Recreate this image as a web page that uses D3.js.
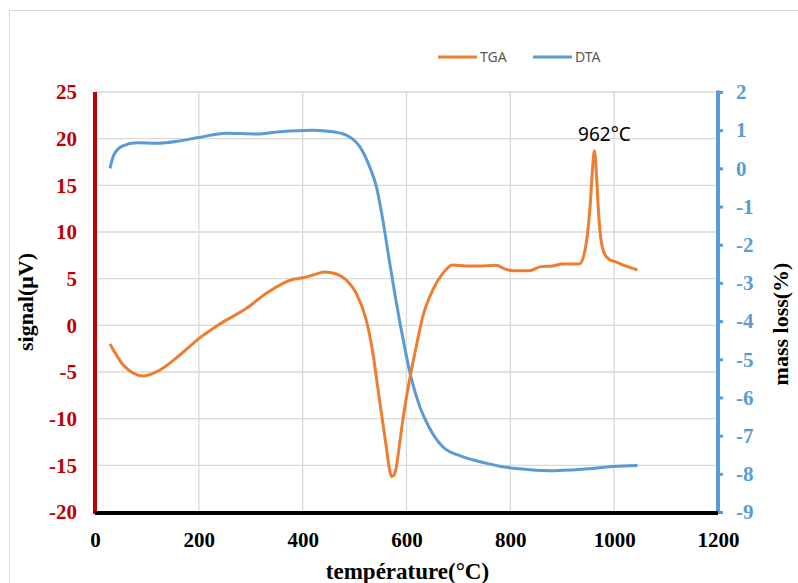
<!DOCTYPE html>
<html>
<head>
<meta charset="utf-8">
<script src="https://cdn.jsdelivr.net/npm/d3@7/dist/d3.min.js"></script>
<style>
  html, body { margin: 0; padding: 0; background: #ffffff; }
  svg { display: block; }
</style>
</head>
<body>
<svg id="chart" width="798" height="583"></svg>
<script>
// Temperature (°C) and signal (µV) for the TGA trace, left axis
const tgaTemp = [28.8, 54.4, 73, 92.9, 118.7, 163.5, 200.6, 240.4, 291.7, 330.2, 381.3, 400.6, 419.8, 442.3,
  464.8, 484, 503.3, 522.5, 535.2, 548, 561, 566, 571, 575, 580, 586, 593, 605.8, 618.7, 631.3, 650.6,
  669.8, 689, 714.8, 740.4, 772.5, 791.7, 804.4, 836.5, 859, 881.3, 900.6, 932.7, 940, 948, 954, 958,
  962, 966, 970, 975, 982, 992, 1003, 1022, 1044.8];
const tgaSignal = [-2.0, -4.25, -5.1, -5.43, -4.97, -3.18, -1.39, 0.14, 1.82, 3.43, 4.93, 5.1, 5.39, 5.71,
  5.5, 4.86, 3.43, 0.57, -2.96, -8.0, -13.0, -15.0, -16.2, -16.1, -15.3, -13.0, -10.1, -5.86, -2.29, 0.93,
  3.79, 5.57, 6.46, 6.36, 6.36, 6.43, 6.0, 5.85, 5.85, 6.29, 6.36, 6.57, 6.57, 7.2, 9.5, 13.0, 16.5,
  18.7, 16.0, 12.0, 9.0, 7.6, 7.0, 6.8, 6.36, 5.93];

// Temperature (°C) and mass loss (%) for the DTA trace, right axis
const dtaTemp = [28.8, 35, 44, 54, 80, 119, 163, 200, 253, 311, 356, 420, 458, 484, 510, 529, 542, 554.4,
  567.3, 580.2, 592.9, 609, 625.8, 644.2, 669.8, 708, 753, 779, 817, 875, 939, 997, 1045];
const dtaMass = [0.0, 0.31, 0.5, 0.59, 0.67, 0.66, 0.72, 0.81, 0.92, 0.90, 0.96, 1.0, 0.96, 0.87, 0.57,
  0.04, -0.48, -1.35, -2.45, -3.5, -4.44, -5.49, -6.25, -6.80, -7.29, -7.55, -7.72, -7.80, -7.87,
  -7.92, -7.88, -7.81, -7.78];

const xTicks = [0, 200, 400, 600, 800, 1000, 1200];
const leftTicks = [-20, -15, -10, -5, 0, 5, 10, 15, 20, 25];
const rightTicks = [-9, -8, -7, -6, -5, -4, -3, -2, -1, 0, 1, 2];

const peakLabel = { temp: 962, signal: 18.7, text: "962°C" };

const seriesNames = ["TGA", "DTA"];
const colors = { TGA: "#ed7d31", DTA: "#5b9bd5" };

const svg = d3.select("#chart");
const plotL = 95, plotR = 718, plotT = 92, plotB = 512;

const x = d3.scaleLinear().domain([0, 1200]).range([plotL, plotR]);
const yL = d3.scaleLinear().domain([-20, 25]).range([plotB, plotT]);
const yR = d3.scaleLinear().domain([-9, 2]).range([plotB, plotT]);

// plain hyphen-minus for negative tick values
const plainFmt = d => String(d);

// outer frame
svg.append("rect")
  .attr("x", 9.5).attr("y", 10.5)
  .attr("width", 900).attr("height", 700)
  .attr("fill", "#ffffff").attr("stroke", "#d9d9d9").attr("stroke-width", 1);

// grid
const grid = svg.append("g").attr("stroke", "#d9d9d9").attr("stroke-width", 1.3);
leftTicks.filter(v => v > -20).forEach(v => {
  grid.append("line").attr("x1", plotL).attr("x2", plotR)
    .attr("y1", yL(v)).attr("y2", yL(v));
});
xTicks.filter(v => v > 0 && v < 1200).forEach(v => {
  grid.append("line").attr("x1", x(v)).attr("x2", x(v))
    .attr("y1", plotT).attr("y2", plotB);
});

// data lines
const tgaData = tgaTemp.map((t, i) => [t, tgaSignal[i]]);
const dtaData = dtaTemp.map((t, i) => [t, dtaMass[i]]);

svg.append("path")
  .datum(dtaData)
  .attr("fill", "none")
  .attr("stroke", colors.DTA)
  .attr("stroke-width", 3)
  .attr("stroke-linejoin", "round")
  .attr("d", d3.line().x(d => x(d[0])).y(d => yR(d[1])).curve(d3.curveMonotoneX));

svg.append("path")
  .datum(tgaData)
  .attr("fill", "none")
  .attr("stroke", colors.TGA)
  .attr("stroke-width", 3)
  .attr("stroke-linejoin", "round")
  .attr("d", d3.line().x(d => x(d[0])).y(d => yL(d[1])).curve(d3.curveMonotoneX));

// peak annotation
svg.append("text")
  .attr("x", x(peakLabel.temp) + 10)
  .attr("y", yL(peakLabel.signal) - 10)
  .attr("text-anchor", "middle")
  .attr("font-family", "'Noto Sans', sans-serif")
  .attr("font-size", 19)
  .attr("fill", "#000000")
  .text(peakLabel.text);

const tickFont = "'Liberation Serif', 'Times New Roman', serif";

// left axis
const gL = svg.append("g")
  .attr("transform", `translate(${plotL},0)`)
  .call(d3.axisLeft(yL).tickValues(leftTicks).tickSize(0).tickPadding(18).tickFormat(plainFmt));
gL.select(".domain").remove();
gL.selectAll("text")
  .attr("font-family", tickFont).attr("font-size", 21).attr("font-weight", "bold")
  .attr("fill", "#c00000");
svg.append("line")
  .attr("x1", plotL).attr("x2", plotL).attr("y1", plotT).attr("y2", plotB + 2)
  .attr("stroke", "#c00000").attr("stroke-width", 4);

// right axis
const gR = svg.append("g")
  .attr("transform", `translate(${plotR},0)`)
  .call(d3.axisRight(yR).tickValues(rightTicks).tickSizeInner(5).tickSizeOuter(0).tickPadding(13).tickFormat(plainFmt));
gR.select(".domain").remove();
gR.selectAll(".tick line").attr("stroke", "#5b9bd5").attr("stroke-width", 3);
gR.selectAll("text")
  .attr("font-family", tickFont).attr("font-size", 21).attr("font-weight", "bold")
  .attr("fill", "#5b9bd5");
svg.append("line")
  .attr("x1", plotR).attr("x2", plotR).attr("y1", plotT - 1.5).attr("y2", plotB + 1.5)
  .attr("stroke", "#5b9bd5").attr("stroke-width", 4);

// bottom axis
const gB = svg.append("g")
  .attr("transform", `translate(0,${plotB})`)
  .call(d3.axisBottom(x).tickValues(xTicks).tickSize(0).tickPadding(20).tickFormat(plainFmt));
gB.select(".domain").remove();
gB.selectAll("text")
  .attr("font-family", tickFont).attr("font-size", 21).attr("font-weight", "bold")
  .attr("fill", "#000000");
svg.append("line")
  .attr("x1", plotL).attr("x2", plotR).attr("y1", plotB + 1).attr("y2", plotB + 1)
  .attr("stroke", "#000000").attr("stroke-width", 4);

// axis titles
svg.append("text")
  .attr("transform", `translate(33,${(plotT + plotB) / 2}) rotate(-90)`)
  .attr("text-anchor", "middle")
  .attr("font-family", tickFont).attr("font-size", 22).attr("font-weight", "bold")
  .attr("fill", "#000000")
  .text("signal(μV)");

svg.append("text")
  .attr("transform", `translate(788,${(plotT + plotB) / 2 + 22}) rotate(-90)`)
  .attr("text-anchor", "middle")
  .attr("font-family", tickFont).attr("font-size", 22).attr("font-weight", "bold")
  .attr("fill", "#000000")
  .text("mass loss(%)");

svg.append("text")
  .attr("x", 407.5)
  .attr("y", 579)
  .attr("text-anchor", "middle")
  .attr("font-family", tickFont).attr("font-size", 23).attr("font-weight", "bold")
  .attr("fill", "#000000")
  .text("température(°C)");

// legend
const legend = svg.append("g").attr("transform", "translate(438,57)");
const legendX = [0, 95];
seriesNames.forEach((name, i) => {
  const g = legend.append("g").attr("transform", `translate(${legendX[i]},0)`);
  g.append("line").attr("x1", 0).attr("x2", 39).attr("y1", 0).attr("y2", 0)
    .attr("stroke", colors[name]).attr("stroke-width", 3);
  g.append("text").attr("x", 42).attr("y", 0).attr("dy", "0.35em")
    .attr("font-family", "'Noto Sans', sans-serif").attr("font-size", 14)
    .attr("fill", "#595959")
    .text(name);
});
</script>
</body>
</html>
